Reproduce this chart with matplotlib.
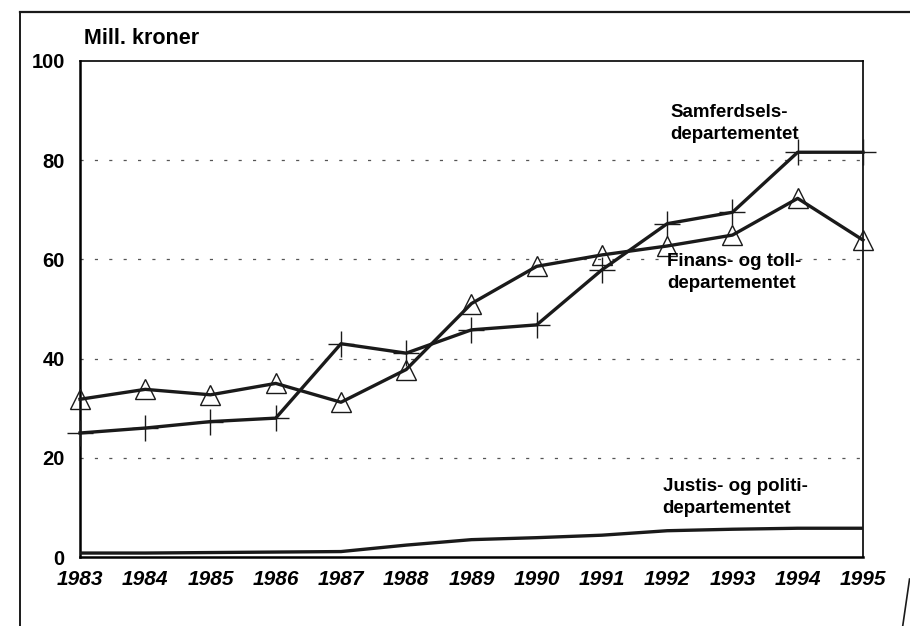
import matplotlib.pyplot as plt
from matplotlib.lines import Line2D

plt.rcParams['font.family'] = ['Liberation Sans', 'DejaVu Sans']

# Data (mill. kroner)
years = [1983, 1984, 1985, 1986, 1987, 1988, 1989, 1990, 1991, 1992, 1993, 1994, 1995]
samferdsel = [25.0, 26.0, 27.3, 28.0, 43.0, 41.1, 45.8, 46.8, 57.9, 67.2, 69.5, 81.6, 81.6]
finans = [31.8, 33.8, 32.7, 35.0, 31.2, 37.8, 51.1, 58.6, 60.9, 62.7, 64.9, 72.3, 63.9]
justis = [0.8, 0.8, 0.9, 1.0, 1.1, 2.4, 3.5, 3.9, 4.4, 5.3, 5.6, 5.8, 5.8]
yticks = [0, 20, 40, 60, 80, 100]

fig = plt.figure(figsize=(9.1, 6.26), dpi=100)
ax = fig.add_axes([0.0879, 0.1102, 0.8604, 0.7924])

# dashed horizontal grid lines
for v in yticks[1:-1]:
    ax.axhline(v, color='#555555', lw=0.9, ls=(0, (2.5, 9)), zorder=1)

ax.plot(years, samferdsel, color='#1a1a1a', lw=2.4, marker='+', ms=19, mew=1.0,
        zorder=3, clip_on=False)
ax.plot(years, finans, color='#1a1a1a', lw=2.4, marker='^', ms=15, mew=1.0,
        mfc='none', mec='#1a1a1a', zorder=3, clip_on=False)
ax.plot(years, justis, color='#1a1a1a', lw=2.4, zorder=3)

ax.set_xlim(1983, 1995)
ax.set_ylim(0, 100)
ax.set_xticks(years)
ax.set_xticklabels([str(y) for y in years], fontsize=15, style='italic', fontweight='bold')
ax.set_yticks(yticks)
ax.set_yticklabels([str(v) for v in yticks], fontsize=14.5, fontweight='bold')
ax.tick_params(length=0)
ax.tick_params(axis='x', pad=9)
ax.tick_params(axis='y', pad=11)
for side in ['left', 'bottom']:
    ax.spines[side].set_linewidth(1.8)
for side in ['top', 'right']:
    ax.spines[side].set_linewidth(1.2)

# series labels
lab = dict(fontsize=13.5, fontweight='bold', ha='left', va='center', linespacing=1.4)
ax.text(1992.05, 87.4, 'Samferdsels-\ndepartementet', **lab)
ax.text(1992.0, 57.4, 'Finans- og toll-\ndepartementet', **lab)
ax.text(1991.93, 12.0, 'Justis- og politi-\ndepartementet', **lab)

fig.text(0.0923, 0.9377, 'Mill. kroner', fontsize=15.5, fontweight='bold',
         ha='left', va='center')

# page frame from the scan
fig.add_artist(Line2D([0.022, 1.0], [0.981, 0.981], color='#1a1a1a', lw=1.6))
fig.add_artist(Line2D([0.022, 0.022], [0.981, 0.0], color='#1a1a1a', lw=1.4))
fig.add_artist(Line2D([0.9995, 0.992], [0.075, 0.0], color='#1a1a1a', lw=1.2))

fig.savefig('out.png', dpi=100)
